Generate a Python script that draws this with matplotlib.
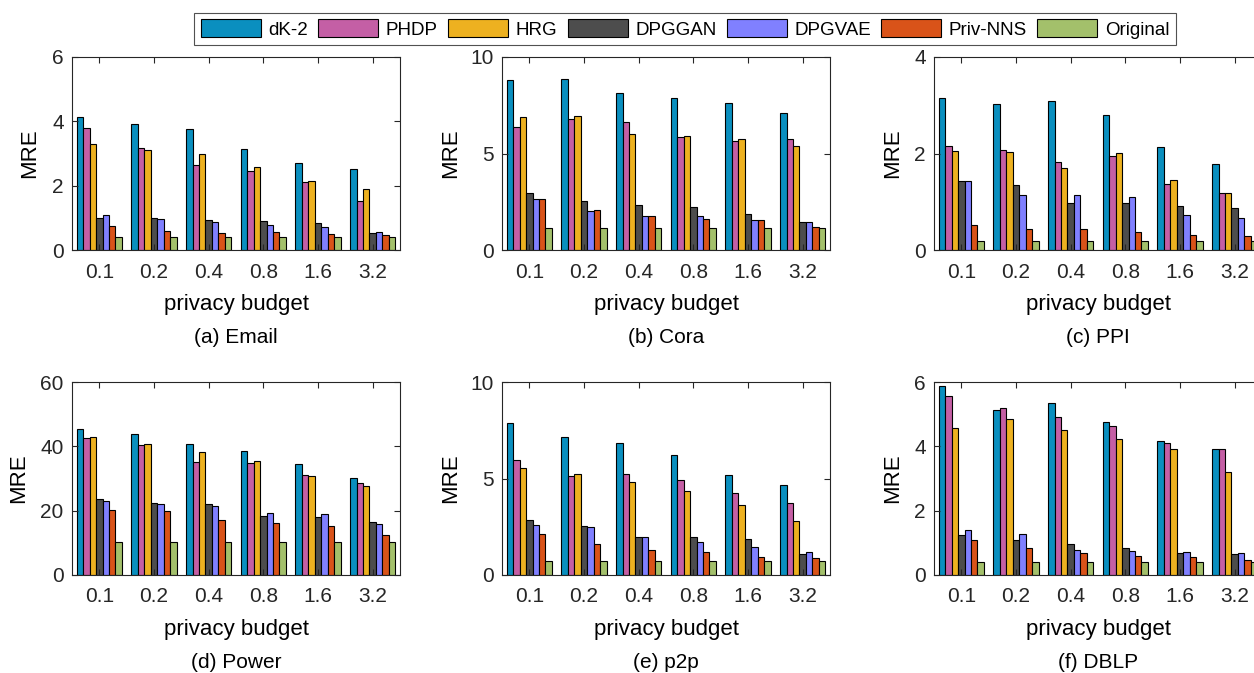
import numpy as np
import matplotlib
matplotlib.use('Agg')
import matplotlib.pyplot as plt

plt.rcParams.update({
    "font.family": ["Liberation Sans", "DejaVu Sans"],
    "font.size": 13,
    "axes.linewidth": 0.8,
    "axes.edgecolor": "#262626",
    "xtick.color": "#262626",
    "ytick.color": "#262626",
})

# privacy budgets and methods
budgets = ['0.1', '0.2', '0.4', '0.8', '1.6', '3.2']
methods = ['dK-2', 'PHDP', 'HRG', 'DPGGAN', 'DPGVAE', 'Priv-NNS', 'Original']
colors = ['#0A8FBF', '#C45FA5', '#EDB120', '#4D4D4D', '#8080FF', '#D95319', '#A3C06B']

# MRE values: rows = budgets, columns = methods
email = [
    [4.15, 3.78, 3.30, 0.98, 1.08, 0.74, 0.41],
    [3.92, 3.16, 3.10, 0.98, 0.95, 0.59, 0.41],
    [3.75, 2.64, 2.98, 0.94, 0.87, 0.54, 0.41],
    [3.14, 2.45, 2.58, 0.91, 0.78, 0.55, 0.41],
    [2.72, 2.12, 2.15, 0.83, 0.72, 0.51, 0.41],
    [2.52, 1.53, 1.90, 0.53, 0.55, 0.46, 0.41],
]
cora = [
    [8.79, 6.39, 6.89, 2.94, 2.63, 2.63, 1.12],
    [8.88, 6.77, 6.94, 2.52, 2.00, 2.07, 1.12],
    [8.12, 6.65, 6.01, 2.33, 1.78, 1.76, 1.12],
    [7.89, 5.84, 5.92, 2.21, 1.76, 1.61, 1.12],
    [7.62, 5.66, 5.75, 1.87, 1.55, 1.57, 1.12],
    [7.08, 5.73, 5.37, 1.47, 1.45, 1.19, 1.12],
]
ppi = [
    [3.14, 2.16, 2.05, 1.43, 1.44, 0.52, 0.19],
    [3.03, 2.07, 2.04, 1.35, 1.14, 0.44, 0.19],
    [3.09, 1.82, 1.69, 0.97, 1.13, 0.43, 0.19],
    [2.80, 1.94, 2.02, 0.97, 1.10, 0.37, 0.19],
    [2.13, 1.37, 1.46, 0.91, 0.72, 0.31, 0.19],
    [1.79, 1.18, 1.18, 0.88, 0.66, 0.28, 0.19],
]
power = [
    [45.3, 42.7, 42.8, 23.5, 22.9, 20.1, 10.4],
    [43.7, 40.3, 40.6, 22.3, 22.0, 19.8, 10.4],
    [40.6, 35.1, 38.1, 22.0, 21.4, 17.0, 10.4],
    [38.5, 34.9, 35.3, 18.3, 19.4, 16.2, 10.4],
    [34.5, 31.2, 30.7, 18.0, 19.1, 15.2, 10.4],
    [30.3, 28.5, 27.7, 16.6, 16.0, 12.3, 10.4],
]
p2p = [
    [7.88, 5.96, 5.53, 2.84, 2.58, 2.12, 0.74],
    [7.13, 5.13, 5.25, 2.56, 2.48, 1.62, 0.74],
    [6.85, 5.25, 4.80, 1.98, 1.98, 1.29, 0.74],
    [6.23, 4.92, 4.34, 1.98, 1.70, 1.19, 0.74],
    [5.18, 4.23, 3.61, 1.89, 1.43, 0.93, 0.74],
    [4.66, 3.75, 2.82, 1.10, 1.17, 0.86, 0.74],
]
dblp = [
    [5.87, 5.55, 4.58, 1.24, 1.40, 1.08, 0.41],
    [5.14, 5.20, 4.84, 1.09, 1.26, 0.85, 0.41],
    [5.34, 4.90, 4.50, 0.97, 0.77, 0.68, 0.41],
    [4.75, 4.62, 4.24, 0.83, 0.76, 0.59, 0.41],
    [4.17, 4.11, 3.93, 0.68, 0.73, 0.55, 0.41],
    [3.93, 3.93, 3.19, 0.65, 0.68, 0.47, 0.41],
]

panels = [
    ('(a) Email', email, 6, [0, 2, 4, 6]),
    ('(b) Cora', cora, 10, [0, 5, 10]),
    ('(c) PPI', ppi, 4, [0, 2, 4]),
    ('(d) Power', power, 60, [0, 20, 40, 60]),
    ('(e) p2p', p2p, 10, [0, 5, 10]),
    ('(f) DBLP', dblp, 6, [0, 2, 4, 6]),
]

W, H = 1254, 673
fig = plt.figure(figsize=(W / 100, H / 100), dpi=100)

lefts = [72, 502, 934]
bottoms = [250, 575]
aw, ah = 328, 193
# horizontal position of the "MRE" label (right edge), axes fraction
ylab_x = [-0.098, -0.125, -0.095, -0.131, -0.125, -0.095]

n = len(methods)
group_w = n / (n + 1.5)
bw = group_w / n
x = np.arange(1, len(budgets) + 1)

for k, (title, data, ymax, yt) in enumerate(panels):
    r, c = divmod(k, 3)
    ax = fig.add_axes([lefts[c] / W, 1 - bottoms[r] / H, aw / W, ah / H])
    vals = np.array(data)
    for j in range(n):
        off = (j - (n - 1) / 2) * bw
        ax.bar(x + off, vals[:, j], width=bw, color=colors[j], edgecolor='black',
               linewidth=0.8, label=methods[j])
    ax.set_xlim(0.5, 6.5)
    ax.set_ylim(0, ymax)
    ax.set_xticks(x)
    ax.set_xticklabels(budgets)
    ax.set_yticks(yt)
    ax.tick_params(which='both', direction='in', length=4, labelsize=15,
                   top=True, right=True)
    ax.tick_params(axis='x', pad=9)
    ax.tick_params(axis='y', pad=6)
    ax.set_xlabel('privacy budget', fontsize=16, labelpad=9)
    ax.set_ylabel('MRE', fontsize=16)
    ax.yaxis.set_label_coords(ylab_x[k], 0.5)
    ax.text(0.5, -0.455, title, transform=ax.transAxes, ha='center', va='center',
            fontsize=15)
    if k == 0:
        handles, labels = ax.get_legend_handles_labels()

leg = fig.legend(handles, labels, loc='center', bbox_to_anchor=(685 / W, 1 - 29 / H),
                 ncol=7, fontsize=13.5, frameon=True, fancybox=False,
                 edgecolor='#262626', handlelength=3.2, handleheight=1.1,
                 handletextpad=0.4, columnspacing=0.55, borderpad=0.35)
leg.get_frame().set_linewidth(0.8)

fig.savefig('out.png', dpi=100)
